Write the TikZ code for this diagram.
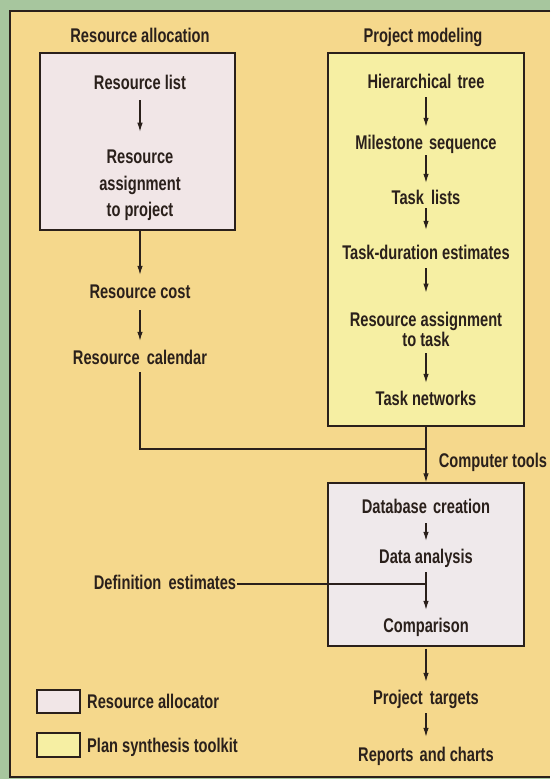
\documentclass[tikz,border=0pt]{standalone}
\usepackage{fontspec}
\setmainfont{Liberation Sans}[FakeStretch=0.74]
\usetikzlibrary{arrows.meta}
\definecolor{bggreen}{HTML}{A7C69E}
\definecolor{panel}{HTML}{F5D88C}
\definecolor{pinkbox}{HTML}{F1E6E7}
\definecolor{yelbox}{HTML}{F6EFA3}
\definecolor{dbbox}{HTML}{EFE9EB}
\definecolor{ink}{HTML}{2A201B}
\begin{document}
\begin{tikzpicture}[x=1pt,y=-1pt,
  txt/.style={font=\fontsize{19.8}{20}\selectfont\bfseries, inner sep=0pt, text=ink, text height=14pt, text depth=4pt},
  mtxt/.style={font=\fontsize{19.8}{20}\selectfont\bfseries, inner sep=0pt, text=ink, align=center},
  arr/.style={draw=ink, line width=1.1pt, -{Latex[length=9pt,width=5.5pt]}},
  conn/.style={draw=ink, line width=1.1pt},
  frame/.style={draw=ink, line width=1.4pt, inner sep=0pt}]
\useasboundingbox (0,0) rectangle (550,779);
\fill[bggreen] (0,0) rectangle (550,779);
\fill[panel] (10,11) rectangle (550,777);
\draw[draw=ink, line width=1.4pt] (550,11) -- (10,11) -- (10,777) -- (550,777);

% containers
\node[frame, fill=pinkbox, minimum width=195pt, minimum height=177pt] (ra) at (137.5,141.5) {};
\node[frame, fill=yelbox, minimum width=196pt, minimum height=373pt] (pm) at (426,239.5) {};
\node[frame, fill=dbbox, minimum width=196pt, minimum height=163pt] (ct) at (426,564.5) {};

% titles
\node[txt] (t1) at (140,37) {Resource allocation};
\node[txt] (t2) at (423,37) {Project modeling};

% left column
\node[txt] (rl) at (140,84) {Resource list};
\node[mtxt] (rap) at (140,185.3) {Resource\\[6.5pt]assignment\\[6.5pt]to project};
\node[txt] (rc) at (140,293) {Resource cost};
\node[txt] (rcal) at (140,359) {Resource\hspace{3pt} calendar};
\coordinate (j1) at (426,449);

% right column
\node[txt] (ht) at (426,83) {Hierarchical\hspace{2pt} tree};
\node[txt] (ms) at (426,144) {Milestone\hspace{2pt} sequence};
\node[txt] (tl) at (426,199) {Task\hspace{3pt} lists};
\node[txt] (tde) at (426,254) {Task-duration estimates};
\node[mtxt] (rat) at (426,329) {Resource assignment\\to task};
\node[txt] (tn) at (426,400) {Task networks};
\node[txt] (cto) at (493,462) {Computer tools};

% computer tools box
\node[txt] (dbc) at (426,508) {Database\hspace{2pt} creation};
\node[txt] (da) at (426,558) {Data analysis};
\node[txt] (cmp) at (426,627) {Comparison};
\node[txt] (de) at (165,584) {Definition\hspace{3pt} estimates};
\node[txt] (pt) at (426,699) {Project\hspace{3pt} targets};
\node[txt] (rac) at (426,756) {Reports\hspace{2pt} and charts};

% legend
\node[frame, line width=1.2pt, fill=pinkbox, minimum width=43pt, minimum height=23pt] (lp) at (58.5,701.5) {};
\node[frame, line width=1.2pt, fill=yelbox, minimum width=43pt, minimum height=24pt] (ly) at (58.5,745) {};
\node[txt, anchor=west] (lpt) at (87,703) {Resource allocator};
\node[txt, anchor=west] (lyt) at (87,747) {Plan synthesis toolkit};

% connectors
\draw[arr, shorten <=7pt, shorten >=18pt] (rl) -- (rap);
\draw[arr, shorten >=9pt] (ra.south -| rc) -- (rc);
\draw[arr, shorten <=8pt, shorten >=9pt] (rcal |- rc.south) -- (rcal);
\draw[conn, shorten <=4pt] (rcal.south) |- (j1);

\draw[arr, shorten <=5pt, shorten >=8pt] (ht) -- (ms);
\draw[arr, shorten <=2pt, shorten >=7pt] (ms) -- (tl);
\draw[arr, shorten <=0pt, shorten >=15pt] (tl) -- (tde);
\draw[arr, shorten <=5pt, shorten >=19pt] (tde) -- (rat);
\draw[arr, shorten <=7pt, shorten >=8pt] (rat) -- (tn);
\draw[arr] (pm.south) -- (ct.north);

\draw[arr, shorten <=6pt, shorten >=8pt] (dbc) -- (da);
\draw[arr, shorten <=5pt, shorten >=8pt] (da) -- (cmp);
\draw[conn, shorten <=1pt] (de.east) -- (de.east -| cmp);
\draw[arr, shorten <=2pt, shorten >=8pt] (ct.south) -- (pt);
\draw[arr, shorten <=5pt, shorten >=10pt] (pt) -- (rac);
\end{tikzpicture}
\end{document}
